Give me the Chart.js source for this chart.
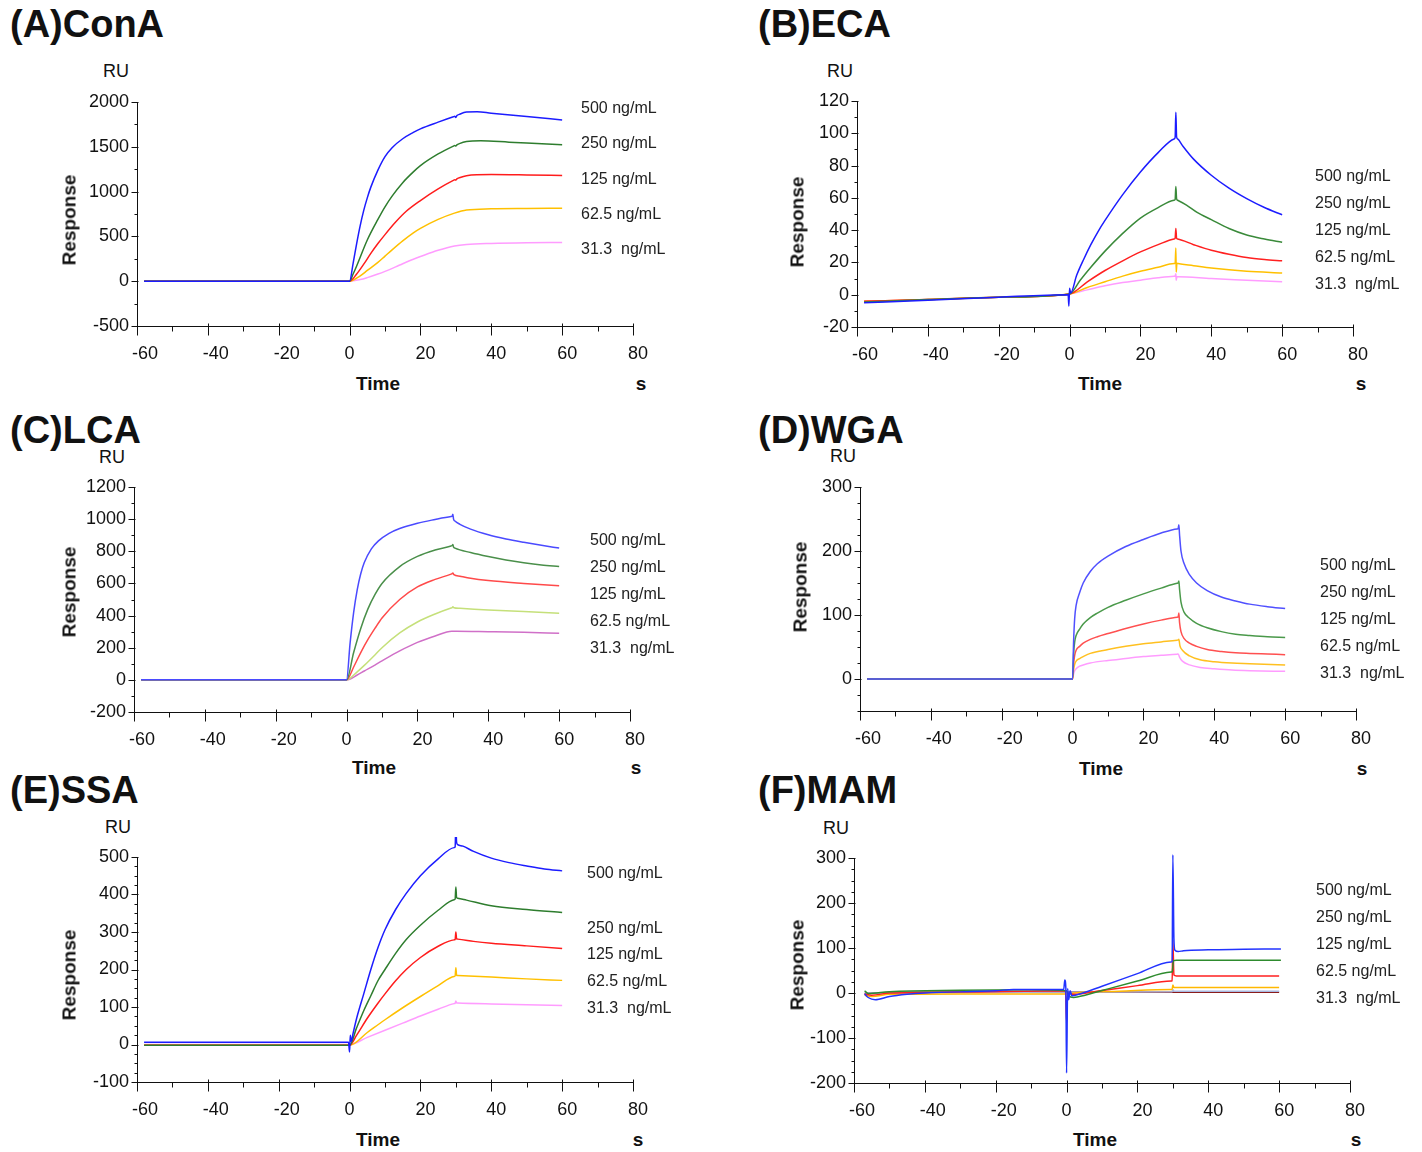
<!DOCTYPE html>
<html>
<head>
<meta charset="utf-8">
<style>
  html, body { margin: 0; padding: 0; background: #fff; }
  #page { position: relative; width: 1422px; height: 1152px; overflow: hidden; background: #fff;
          font-family: "Liberation Sans", Arial, sans-serif; color: #111; }
  #page canvas { position: absolute; }
  .txt { position: absolute; line-height: 1; white-space: pre; }
</style>
</head>
<body>
<div id="page"></div>
<script src="https://cdn.jsdelivr.net/npm/chart.js@4.4.1/dist/chart.umd.min.js"></script>
<script>
// sensorgram traces, [time s, response RU]
// (A) ConA
const conA500 = [[-58,0],[0,0],[1,200],[2,420],[3,620],[4,790],[5,930],[6,1050],[8,1240],[10,1390],[12,1490],[15,1590],[18,1660],[20,1700],[25,1775],[29.3,1835],[29.7,1840],[30,1828],[30.3,1848],[31,1862],[33,1888],[36,1892],[40,1875],[50,1838],[60,1800]];
const conA250 = [[-58,0],[0,0],[1,80],[2,170],[5,460],[8,690],[10,830],[12,950],[15,1100],[18,1220],[20,1290],[25,1420],[29.3,1508],[29.7,1515],[30,1508],[30.3,1522],[31,1535],[33,1558],[37,1568],[45,1552],[60,1522]];
const conA125 = [[-58,0],[0,0],[2,80],[4,190],[6,310],[8,420],[10,520],[13,660],[16,780],[20,900],[25,1030],[29.3,1125],[29.7,1132],[30,1128],[30.3,1142],[31,1155],[33,1178],[40,1190],[50,1186],[60,1180]];
const conA62 = [[-58,0],[0,0],[3,60],[5,120],[8,210],[10,280],[12,350],[15,450],[18,540],[20,590],[25,690],[29.6,760],[33,795],[40,808],[50,812],[60,814]];
const conA31 = [[-58,0],[0,0],[3,18],[5,40],[8,80],[10,110],[13,160],[15,195],[18,245],[20,275],[25,345],[29.6,393],[33,410],[40,422],[50,430],[60,433]];

// (B) ECA
const eca500 = [[-58,-5],[-40,-3.5],[-20,-1.5],[-0.4,0],[-0.2,-7],[0,4],[0.3,1],[2,12],[4,22],[6,31],[8,39],[10,46],[15,62],[20,76],[25,88],[29.5,96.5],[29.8,97.5],[30,113],[30.2,98],[30.5,96.5],[32,92],[35,84],[40,74],[45,66],[50,59.5],[55,54],[60,49.5]];
const eca250 = [[-58,-4.5],[-40,-3],[-20,-1.5],[0,0.5],[3,9],[6,17],[10,27],[15,38],[20,47.5],[25,54],[29.5,58.5],[29.8,59],[30,67],[30.2,59.5],[30.5,58.5],[33,55.5],[36,51],[40,46.5],[45,41],[50,37],[55,34.5],[60,32.5]];
const eca125 = [[-58,-4],[-40,-3],[-20,-1.5],[0,0.5],[5,8],[10,15],[15,21],[20,26.5],[25,31],[29.5,34.5],[29.8,35],[30,41],[30.2,35],[30.5,34.5],[35,31],[40,27.5],[45,25],[50,23],[55,21.8],[60,21]];
const eca62 = [[-58,-4],[-40,-3],[-20,-1.5],[0,0.5],[5,4.5],[10,8],[15,11.5],[20,14.5],[25,17],[29.5,19.3],[29.8,19.5],[30,29],[30.1,14],[30.3,19.5],[30.6,19.3],[35,18],[40,16.5],[50,14.5],[60,13.5]];
const eca31 = [[-58,-4],[-40,-3],[-20,-1.5],[0,0.5],[5,3],[10,5.5],[15,7.5],[20,9],[25,10.5],[29.5,11.4],[29.8,11.5],[30,13],[30.1,9],[30.3,11.2],[30.6,11.2],[40,10],[50,9],[60,8]];

// (C) LCA
const lca500 = [[-58,0],[0,0],[1,230],[2,420],[3,560],[4,660],[5,730],[7,815],[9,865],[12,912],[15,942],[20,975],[25,998],[29.5,1016],[29.8,1018],[30,1030],[30.2,1000],[30.6,988],[32,968],[35,938],[40,903],[45,877],[50,856],[55,837],[60,820]];
const lca250 = [[-58,0],[0,0],[2,170],[4,320],[6,440],[8,530],[10,600],[15,705],[20,768],[25,808],[29.5,833],[29.8,836],[30,842],[30.2,826],[30.6,820],[35,792],[40,767],[45,746],[50,729],[55,715],[60,705]];
const lca125 = [[-58,0],[0,0],[2,80],[4,170],[6,250],[8,320],[10,385],[15,500],[20,578],[25,625],[29.5,658],[29.8,661],[30,665],[30.3,655],[32,645],[35,632],[40,618],[50,600],[60,585]];
const lca62 = [[-58,0],[0,0],[3,50],[5,90],[8,155],[10,200],[15,292],[20,360],[25,410],[29.5,447],[29.8,449],[30,455],[30.3,449],[32,445],[40,435],[50,425],[60,415]];
const lca31 = [[-58,0],[0,0],[3,30],[5,55],[8,92],[10,118],[15,180],[20,233],[25,273],[29.7,303],[31,303],[40,300],[50,296],[60,290]];

// (D) WGA
const wga500 = [[-58,0],[0,0],[0.3,60],[0.6,95],[1,115],[2,135],[3,150],[5,168],[7,180],[10,192],[15,207],[20,218],[25,228],[29.5,234.5],[29.8,235],[30,241],[30.2,225],[30.6,200],[31.5,180],[33,163],[35,150],[38,138],[42,128],[46,122],[50,117],[55,113],[60,110]];
const wga250 = [[-58,0],[0,0],[0.3,40],[0.6,58],[1,68],[2,78],[3,86],[5,96],[7,103],[10,112],[15,123],[20,133],[25,142],[29.5,149.5],[29.8,150],[30,153],[30.2,140],[30.6,120],[31.5,104],[33,95],[35,87],[38,80],[42,74],[46,70],[50,68],[55,66],[60,65]];
const wga125 = [[-58,0],[0,0],[0.3,25],[0.6,37],[1,45],[2,51],[3,56],[5,62],[7,66],[10,71],[15,79],[20,86],[25,92],[29.5,96.5],[29.8,97],[30,103],[30.2,88],[30.6,74],[31.5,63],[33,56],[35,51],[38,46],[42,43],[46,41],[50,40],[55,39],[60,38]];
const wga62 = [[-58,0],[0,0],[0.3,15],[0.6,23],[1,28],[2,32],[3,35],[5,40],[10,46],[15,51],[20,55],[25,58],[29.5,60.7],[29.8,61],[30,62],[30.3,52],[31,45],[33,36],[36,30],[40,27],[45,25],[50,24],[60,22]];
const wga31 = [[-58,0],[0,0],[0.3,8],[0.6,13],[1,16],[2,20],[3,22],[5,25],[10,29],[15,32],[20,35],[25,37],[29.5,38.8],[29.8,39],[30.3,33],[31,28],[33,22],[36,18],[40,16],[45,14],[50,13],[60,12]];

// (E) SSA
const ssa500 = [[-58,6],[-1,6],[-0.3,6],[0,-20],[0.2,25],[0.5,8],[1,30],[2,70],[4,135],[6,200],[8,258],[10,306],[13,360],[16,403],[20,450],[25,495],[29.5,525],[29.8,527],[30,590],[30.2,540],[30.5,533],[32,529],[35,515],[40,497],[45,485],[50,476],[55,468],[60,463]];
const ssa250 = [[-58,-2],[0,-2],[2,45],[4,90],[6,130],[8,170],[10,200],[13,243],[16,280],[20,318],[25,358],[29.5,386],[29.8,388],[30,420],[30.2,392],[30.5,390],[33,385],[40,370],[50,360],[60,352]];
const ssa125 = [[-58,-2],[0,-2],[2,25],[5,70],[8,110],[10,135],[13,170],[16,200],[20,232],[25,262],[29.5,279],[29.8,280],[30,300],[30.2,282],[30.5,281],[35,275],[40,270],[50,263],[60,256]];
const ssa62 = [[-58,-2],[0,-2],[5,32],[10,66],[15,98],[20,128],[25,157],[29.5,181.5],[29.8,183],[30,205],[30.2,185],[30.5,184],[40,180],[50,175],[60,171]];
const ssa31 = [[-58,0],[0,0],[5,19],[10,38],[15,57],[20,76],[25,94],[29.5,109],[29.8,110],[30,116],[30.2,111],[30.5,110.5],[40,108],[50,106],[60,104]];

// (F) MAM
const mam500 = [[-57,-2],[-56,-10],[-54,-15],[-50,-8],[-45,-3],[-40,0],[-20,5],[-15,8],[-0.8,8],[-0.5,29],[-0.2,10],[0,-178],[0.3,10],[0.6,-15],[1,5],[1.5,-6],[3,-4],[10,15],[20,43],[29.5,69],[29.8,70],[30,307],[30.3,120],[30.6,95],[31.5,92],[33,94],[40,96],[50,97],[60.5,98]];
const mam250 = [[-57,5],[-56,-1],[-50,3],[-30,6],[-10,7],[0,5],[0.5,-5],[2,-10],[3,-9],[10,5.6],[20,26.5],[29.5,46.5],[29.8,47],[30.2,72],[31,73],[60.5,73]];
const mam125 = [[-57,-2],[-55,-5],[-50,0],[-30,2],[-0.3,5],[0,-66],[0.3,0],[2,-3],[10,5.6],[20,16.4],[29.5,26.6],[29.8,27],[30,118],[30.3,40],[31,38],[60,38]];
const mam62 = [[-57,-5],[-55,-8],[-50,-3],[-30,-2],[0,-2],[2,0],[15,4],[29.5,7.9],[29.8,8],[30,18],[30.3,12],[60,12]];
const mam31 = [[-57,-1],[-50,1],[0,3],[29.8,1.5],[30.3,1.5],[60,1.5]];
const mamBlank = [[-57,0],[-50,0],[0,2],[29.8,3],[30,8],[30.3,4],[60,4]];

const concLabels = ['500 ng/mL', '250 ng/mL', '125 ng/mL', '62.5 ng/mL', '31.3  ng/mL'];
const xTicks = { min: -60, max: 80, major: 20, minor: 10 };

const FONT = '"Liberation Sans", Arial, sans-serif';
const Y_W = 90, X_H = 44, PAD_T = 20, PAD_R = 50;

const panels = [
  { title: '(A)ConA', plot: [137, 102, 496, 224], y: [-500, 2000, 500, 250],
    series: [conA500, conA250, conA125, conA62, conA31],
    colors: ['#1c1cff', '#2e7d2e', '#ff1c1c', '#ffc000', '#ff9cff'],
    titlePos: [10, 24], ru: [116, 71], resp: [69, 220], time: [378, 383], s: [641, 383],
    legX: 581, legY: [108, 143, 179, 214, 249] },
  { title: '(B)ECA', plot: [857, 101, 496, 226], y: [-20, 120, 20, 10],
    series: [eca500, eca250, eca125, eca62, eca31],
    colors: ['#1c1cff', '#3a8a3a', '#ff2020', '#ffc000', '#ff9cff'],
    titlePos: [758, 24], ru: [840, 71], resp: [797, 222], time: [1100, 383], s: [1361, 383],
    legX: 1315, legY: [176, 203, 230, 257, 284] },
  { title: '(C)LCA', plot: [134, 487, 496, 225], y: [-200, 1200, 200, 100],
    series: [lca500, lca250, lca125, lca62, lca31],
    colors: ['#4a4aff', '#4a8f4a', '#ff4a4a', '#c5e07a', '#d070c8'],
    titlePos: [10, 430], ru: [112, 457], resp: [69, 592], time: [374, 767], s: [636, 767],
    legX: 590, legY: [540, 567, 594, 621, 648] },
  { title: '(D)WGA', plot: [860, 487, 496, 224], y: [-50, 300, 100, 25],
    series: [wga500, wga250, wga125, wga62, wga31],
    colors: ['#5050ff', '#4a994a', '#ff5050', '#ffc020', '#ff9cff'],
    titlePos: [758, 430], ru: [843, 456], resp: [800, 587], time: [1101, 768], s: [1362, 768],
    legX: 1320, legY: [565, 592, 619, 646, 673] },
  { title: '(E)SSA', plot: [137, 857, 496, 225], y: [-100, 500, 100, 25],
    series: [ssa500, ssa250, ssa125, ssa62, ssa31],
    colors: ['#1c1cff', '#2e7d2e', '#ff1c1c', '#ffc000', '#ff9cff'],
    titlePos: [10, 790], ru: [118, 827], resp: [69, 975], time: [378, 1139], s: [638, 1139],
    legX: 587, legY: [873, 928, 954, 981, 1008] },
  { title: '(F)MAM', plot: [854, 858, 496, 225], y: [-200, 300, 100, 25],
    series: [mam500, mam250, mam125, mam62, mamBlank, mam31],
    colors: ['#2233ff', '#2e8b2e', '#ff2020', '#ffb800', '#a8b8e0', '#8b1c1c'],
    titlePos: [758, 790], ru: [836, 828], resp: [797, 965], time: [1095, 1139], s: [1356, 1139],
    legX: 1316, legY: [890, 917, 944, 971, 998] }
];

const page = document.getElementById('page');

function addText(str, x, y, size, opts) {
  opts = opts || {};
  const d = document.createElement('div');
  d.className = 'txt';
  d.textContent = str;
  d.style.left = x + 'px';
  d.style.top = y + 'px';
  d.style.fontSize = size + 'px';
  if (opts.bold) d.style.fontWeight = 'bold';
  let tf = opts.left ? 'translate(0,-50%)' : 'translate(-50%,-50%)';
  if (opts.rotate) tf += ' rotate(-90deg)';
  d.style.transform = tf;
  if (opts.color) d.style.color = opts.color;
  page.appendChild(d);
}

// tick marks: long ones at labelled values, short ones between
const axisTicks = {
  id: 'axisTicks',
  afterDraw(chart, args, o) {
    const {ctx} = chart;
    const xs = chart.scales.x, ys = chart.scales.y;
    ctx.save();
    ctx.strokeStyle = '#111';
    ctx.lineWidth = 1;
    ctx.beginPath();
    const base = Math.round(ys.getPixelForValue(ys.min)) + 0.5;
    for (let v = Math.ceil(xs.min / o.xMinor) * o.xMinor; v <= xs.max + 1e-9; v += o.xMinor) {
      const px = Math.round(xs.getPixelForValue(v)) + 0.5;
      const major = Math.abs(v % o.xMajor) < 1e-9;
      ctx.moveTo(px, base - (major ? 3 : 0));
      ctx.lineTo(px, base + (major ? 9 : 5));
    }
    const left = Math.round(xs.getPixelForValue(xs.min)) + 0.5;
    for (let v = Math.ceil(ys.min / o.yMinor) * o.yMinor; v <= ys.max + 1e-9; v += o.yMinor) {
      const py = Math.round(ys.getPixelForValue(v)) + 0.5;
      const major = Math.abs(v % o.yMajor) < 1e-9;
      ctx.moveTo(left - (major ? 6 : 3), py);
      ctx.lineTo(left + (major ? 1 : 0), py);
    }
    ctx.stroke();
    ctx.restore();
  }
};

panels.forEach(function (p) {
  const [L, T, W, H] = p.plot;
  const [yMin, yMax, yMajor, yMinor] = p.y;
  const cv = document.createElement('canvas');
  cv.width = W + Y_W + PAD_R;
  cv.height = H + PAD_T + X_H;
  cv.style.left = (L - Y_W) + 'px';
  cv.style.top = (T - PAD_T) + 'px';
  cv.style.width = cv.width + 'px';
  cv.style.height = cv.height + 'px';
  page.appendChild(cv);

  const datasets = p.series.map(function (s, i) {
    return {
      data: s.map(function (pt) { return { x: pt[0], y: pt[1] }; }),
      borderColor: p.colors[i],
      borderWidth: 1.5,
      pointRadius: 0,
      fill: false,
      cubicInterpolationMode: 'monotone',
      clip: false
    };
  });

  new Chart(cv.getContext('2d'), {
    type: 'line',
    data: { datasets: datasets },
    plugins: [axisTicks],
    options: {
      responsive: false,
      animation: false,
      devicePixelRatio: 1,
      layout: { padding: { left: 0, top: PAD_T, right: PAD_R, bottom: 0 } },
      plugins: {
        legend: { display: false },
        tooltip: { enabled: false },
        axisTicks: { xMajor: xTicks.major, xMinor: xTicks.minor, yMajor: yMajor, yMinor: yMinor }
      },
      scales: {
        x: {
          type: 'linear', min: xTicks.min, max: xTicks.max,
          afterFit: function (s) { s.height = X_H; },
          grid: { display: false, drawTicks: false },
          border: { display: true, color: '#111', width: 1 },
          ticks: { stepSize: xTicks.major, padding: 17, color: '#111', maxRotation: 0, autoSkip: false,
                   align: 'start', labelOffset: -5,
                   font: { family: FONT, size: 18 },
                   callback: function (v) { return String(v); } }
        },
        y: {
          type: 'linear', min: yMin, max: yMax,
          afterFit: function (s) { s.width = Y_W; },
          grid: { display: false, drawTicks: false },
          border: { display: true, color: '#111', width: 1 },
          ticks: { stepSize: yMajor, padding: 8, color: '#111', autoSkip: false,
                   font: { family: FONT, size: 18 },
                   callback: function (v) { return v % yMajor === 0 ? String(v) : ''; } }
        }
      }
    }
  });

  addText(p.title, p.titlePos[0], p.titlePos[1], 38, { bold: true, left: true });
  addText('RU', p.ru[0], p.ru[1], 18);
  addText('Response', p.resp[0], p.resp[1], 19, { bold: true, rotate: true });
  addText('Time', p.time[0], p.time[1], 19, { bold: true });
  addText('s', p.s[0], p.s[1], 19, { bold: true });
  concLabels.forEach(function (lab, i) {
    addText(lab, p.legX, p.legY[i], 16, { left: true, color: '#222' });
  });
});
</script>
</body>
</html>
